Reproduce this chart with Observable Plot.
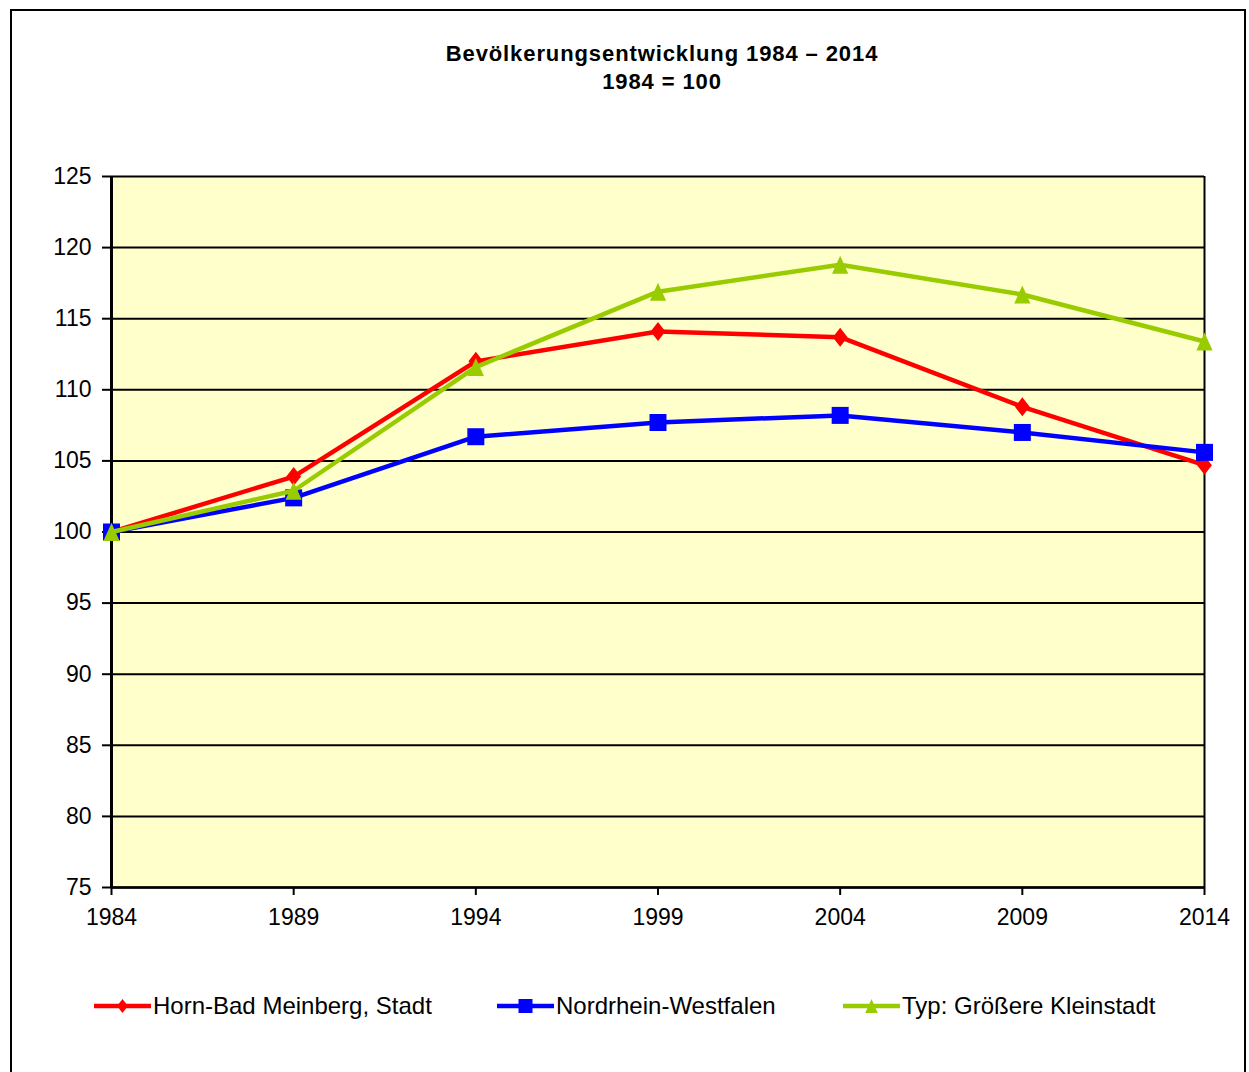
<!DOCTYPE html>
<html><head><meta charset="utf-8">
<script src="https://cdn.jsdelivr.net/npm/d3@7"></script>
<script src="https://cdn.jsdelivr.net/npm/@observablehq/plot@0.6"></script>
<style>
body{margin:0;background:#fff;font-family:Arial,"Liberation Sans",sans-serif;}
#page{position:relative;width:1249px;height:1072px;overflow:hidden;}
#frame{position:absolute;left:10px;top:9px;width:1232px;height:1100px;border:2.5px solid #000;}
#title{position:absolute;left:0;top:40px;width:1324px;text-align:center;font-weight:bold;font-size:22px;line-height:28px;letter-spacing:0.9px;color:#000;}
#chart{position:absolute;left:0;top:150px;}
.leg{position:absolute;top:992px;height:28px;display:flex;align-items:center;font-size:24px;color:#000;white-space:nowrap;}
.leg svg{display:block;margin-right:2px;}
</style>
</head><body>
<div id="page">
  <div id="frame"></div>
  <div id="title">Bevölkerungsentwicklung 1984 – 2014<br>1984 = 100</div>
  <div id="chart"></div>
  <div id="legend"></div>
</div>
<script>
const years = [1984, 1989, 1994, 1999, 2004, 2009, 2014];
const seriesNames = ["Horn-Bad Meinberg, Stadt", "Nordrhein-Westfalen", "Typ: Größere Kleinstadt"];
const hornBadMeinberg = [100, 103.9, 112.0, 114.1, 113.7, 108.8, 104.7];
const nordrheinWestfalen = [100, 102.4, 106.7, 107.7, 108.2, 107.0, 105.6];
const groessereKleinstadt = [100, 102.9, 111.6, 116.9, 118.8, 116.7, 113.4];
const yTicks = [75, 80, 85, 90, 95, 100, 105, 110, 115, 120, 125];
const colors = ["#FF0000", "#0000FF", "#99CC00"];

const seriesValues = [hornBadMeinberg, nordrheinWestfalen, groessereKleinstadt];

// Excel-like marker shapes
const diamond = {draw(ctx, size){const r = Math.sqrt(size/Math.PI); const w = r*0.78; ctx.moveTo(0,-r); ctx.lineTo(w,0); ctx.lineTo(0,r); ctx.lineTo(-w,0); ctx.closePath();}};
const square = {draw(ctx, size){const r = Math.sqrt(size/Math.PI); ctx.rect(-r,-r,2*r,2*r);}};
const triangle = {draw(ctx, size){const r = Math.sqrt(size/Math.PI); const w = r*0.9; ctx.moveTo(0,-r); ctx.lineTo(w,r); ctx.lineTo(-w,r); ctx.closePath();}};
const symbols = [diamond, square, triangle];
const radii = [9.5, 8.5, 9];

const marks = [
  Plot.frame({fill: "#FFFFCC", stroke: null}),
  Plot.gridY(yTicks, {stroke: "#000", strokeOpacity: 1, strokeWidth: 2}),
  Plot.ruleX([2014], {stroke: "#000", strokeWidth: 2}),
  Plot.ruleY([75], {stroke: "#000", strokeWidth: 2.5}),
  Plot.ruleX([1984], {stroke: "#000", strokeWidth: 3}),
  Plot.axisY({ticks: yTicks, tickSize: 9, tickPadding: 11, tickFormat: d => String(d), label: null, stroke: "#000", strokeWidth: 2}),
  Plot.axisX({ticks: years, tickSize: 8, tickPadding: 13, tickFormat: d => String(d), label: null, stroke: "#000", strokeWidth: 2})
];
seriesNames.forEach((name, i) => {
  const data = years.map((y, j) => ({year: y, value: seriesValues[i][j]}));
  marks.push(Plot.line(data, {x: "year", y: "value", stroke: colors[i], strokeWidth: 4.5}));
  marks.push(Plot.dot(data, {x: "year", y: "value", fill: colors[i], stroke: null, r: radii[i], symbol: symbols[i]}));
});

const chart = Plot.plot({
  width: 1249,
  height: 787,
  marginLeft: 111,
  marginRight: 45,
  marginTop: 26,
  marginBottom: 50,
  x: {domain: [1984, 2014]},
  y: {domain: [75, 125]},
  style: {fontFamily: "Arial, 'Liberation Sans', sans-serif", fontSize: "23px", color: "#000", background: "transparent", overflow: "visible"},
  marks
});
document.getElementById("chart").appendChild(chart);

// legend
const legendLefts = [94, 497, 843];
const legend = document.getElementById("legend");
seriesNames.forEach((name, i) => {
  const div = document.createElement("div");
  div.className = "leg";
  div.style.left = legendLefts[i] + "px";
  const svg = d3.create("svg").attr("width", 57).attr("height", 24);
  svg.append("line").attr("x1", 0).attr("x2", 57).attr("y1", 12).attr("y2", 12).attr("stroke", colors[i]).attr("stroke-width", 4.5);
  const sz = Math.PI * 7 * 7;
  svg.append("path").attr("transform", "translate(28.5,12)").attr("d", d3.symbol(symbols[i], sz)()).attr("fill", colors[i]);
  div.appendChild(svg.node());
  const span = document.createElement("span");
  span.textContent = name;
  div.appendChild(span);
  legend.appendChild(div);
});
</script>
</body></html>
